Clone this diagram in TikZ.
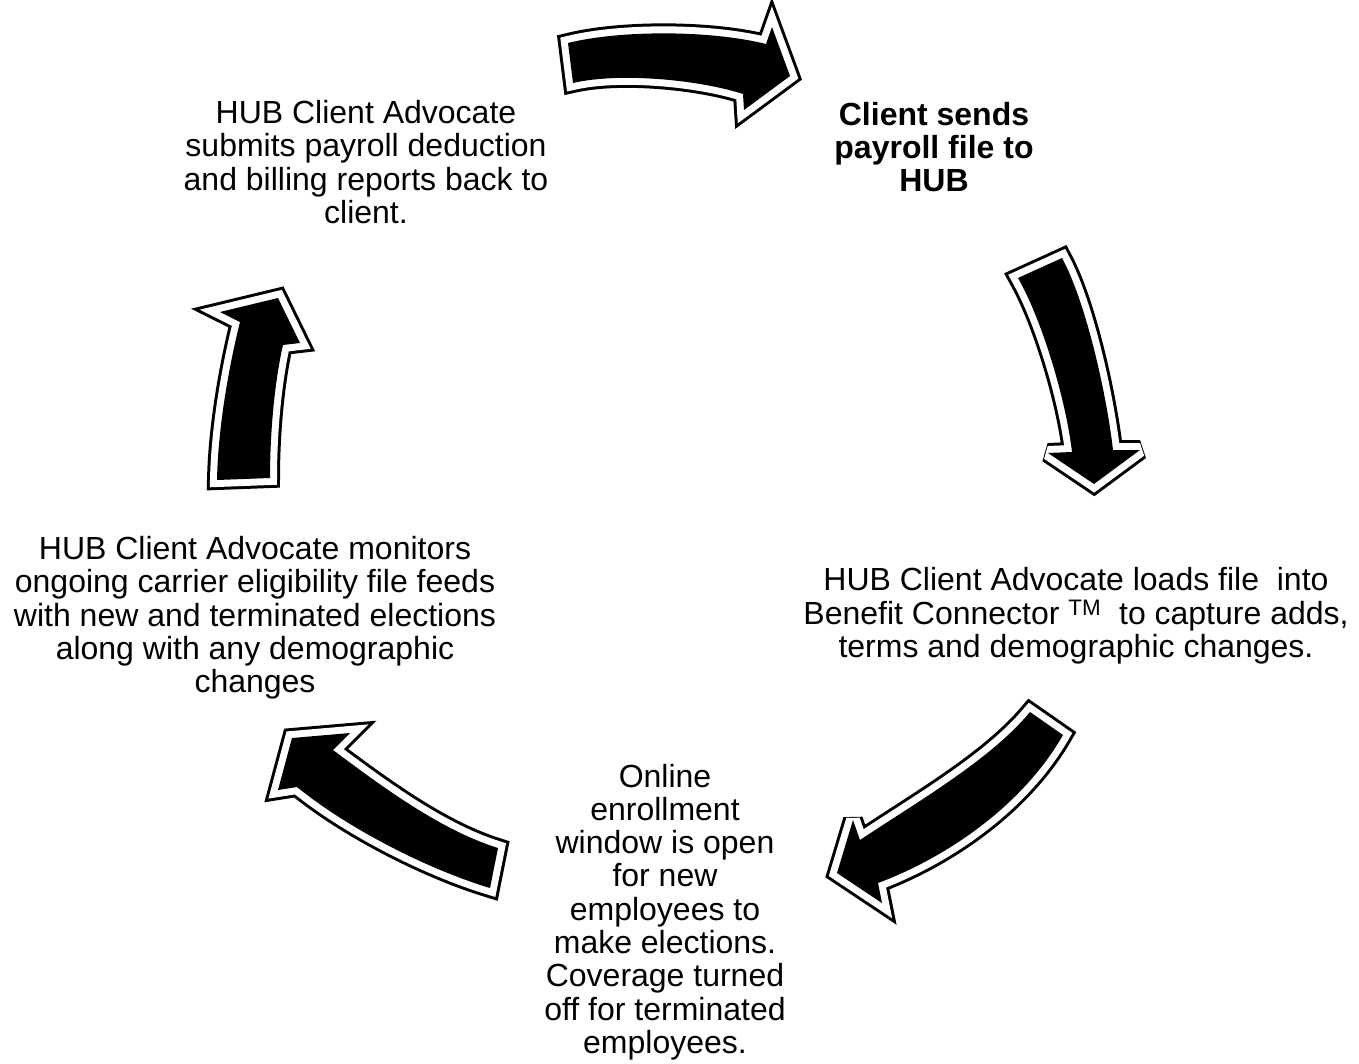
\documentclass[tikz,border=0pt]{standalone}
\usepackage{fontspec}
\setmainfont{Liberation Sans}
\begin{document}
\begin{tikzpicture}[x=1pt,y=-1pt,
  txt/.style={align=center,inner sep=0pt,font=\fontsize{32}{33.3}\selectfont},
  ringout/.style={draw=black,line width=20pt,line join=miter,miter limit=3},
  ringin/.style={draw=white,line width=14pt,line join=miter,miter limit=3},
  body/.style={fill=black}]
\useasboundingbox (0,0) rectangle (1359,1063);
% text nodes
\node[txt] (n1) at (366,162) {HUB Client Advocate\\submits payroll deduction\\and billing reports back to\\client.};
\node[txt,font=\fontsize{32}{33.3}\selectfont\bfseries] (n2) at (934,147) {Client sends\\payroll file to\\HUB};
\node[txt] (n3) at (1076,616) {HUB Client Advocate loads file\ \ into\\Benefit Connector \textsuperscript{TM}\ \ to capture adds,\\terms and demographic changes.};
\node[txt] (n4) at (665,912) {Online\\enrollment\\window is open\\for new\\employees to\\make elections.\\Coverage turned\\off for terminated\\employees.};
\node[txt] (n5) at (255,618) {HUB Client Advocate monitors\\ongoing carrier eligibility file feeds\\with new and terminated elections\\along with any demographic\\changes};
% arrow shapes
\def\arrA{(568,43) .. controls (620,30) and (710,30) .. (766,44) -- (772,27) -- (790,76) -- (744,110) -- (743,94) .. controls (700,80) and (620,72) .. (573,83) -- cycle}
\def\arrB{(1018,278) -- (1062,258) .. controls (1085,300) and (1106,390) .. (1113,450) -- (1140,450) -- (1094,484) -- (1048,453) -- (1072,452) .. controls (1066,400) and (1042,320) .. (1018,278) -- cycle}
\def\arrC{(1030,712) -- (1063,735) .. controls (1020,810) and (940,860) .. (878,883) -- (882,903) -- (837,873) -- (853,820) -- (860,840) .. controls (920,800) and (990,760) .. (1030,712) -- cycle}
\def\arrD{(498,848) -- (490,888) .. controls (430,870) and (350,830) .. (297,787) -- (278,790) -- (292,738) -- (350,733) -- (333,750) .. controls (380,785) and (440,830) .. (498,848) -- cycle}
\def\arrE{(217,480) .. controls (218,430) and (228,370) .. (240,322) -- (220,312) -- (278,298) -- (300,343) -- (283,345) .. controls (275,380) and (270,430) .. (270,478) -- cycle}
\foreach \p in {\arrA,\arrB,\arrC,\arrD,\arrE}{
  \path[ringout] \p;
  \path[ringin] \p;
  \path[body] \p;
}
\end{tikzpicture}
\end{document}
